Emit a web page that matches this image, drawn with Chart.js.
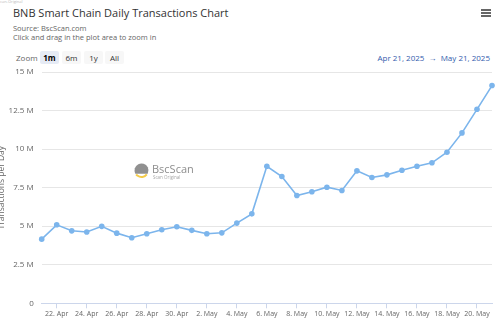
<!DOCTYPE html>
<html>
<head>
<meta charset="utf-8">
<script src="https://cdn.jsdelivr.net/npm/chart.js@4"></script>
<style>
  body { margin: 0; width: 500px; height: 325px; overflow: hidden; background: #fff; font-family: "Open Sans", sans-serif; position: relative; }
  #chart { position: absolute; left: -4px; top: 0; }
  .txt { position: absolute; white-space: nowrap; }
  #ghost { left: 0; top: -1px; font-size: 4px; color: #bbb; }
  #title { left: 13px; top: 5px; font-size: 11px; color: #333; }
  #source { left: 13px; top: 23px; font-size: 7.5px; color: #666; }
  #hint { left: 13px; top: 32px; font-size: 7.5px; color: #666; }
  #zoomLbl { left: 16px; top: 52px; font-size: 8px; color: #666; }
  .btn { position: absolute; top: 51px; height: 13px; width: 19px; font-size: 8px; line-height: 13px; text-align: center; color: #333; background: #f7f7f7; border-radius: 2px; }
  .btn.on { background: #e6ebf5; font-weight: bold; color: #000; }
  #range { right: 10px; top: 52px; font-size: 8px; color: #335cad; }
  #menu { position: absolute; left: 481px; top: 9px; width: 10px; }
  #menu div { height: 1.5px; background: #666; margin-bottom: 1.7px; }
</style>
</head>
<body>
<div class="txt" id="ghost">can-Original</div>
<div class="txt" id="title">BNB Smart Chain Daily Transactions Chart</div>
<div class="txt" id="source">Source: BscScan.com</div>
<div class="txt" id="hint">Click and drag in the plot area to zoom in</div>
<div class="txt" id="zoomLbl">Zoom</div>
<div class="btn on" style="left:40px">1m</div>
<div class="btn" style="left:62px">6m</div>
<div class="btn" style="left:84px">1y</div>
<div class="btn" style="left:105px">All</div>
<div class="txt" id="range">Apr 21, 2025 &nbsp;→&nbsp; May 21, 2025</div>
<div id="menu"><div></div><div></div><div></div></div>
<canvas id="chart" width="504" height="325"></canvas>
<script>
// Daily dates, 21 Apr 2025 - 21 May 2025
const dates = [
    '21. Apr', '22. Apr', '23. Apr', '24. Apr', '25. Apr', '26. Apr', '27. Apr', '28. Apr', '29. Apr', '30. Apr',
    '1. May', '2. May', '3. May', '4. May', '5. May', '6. May', '7. May', '8. May', '9. May', '10. May',
    '11. May', '12. May', '13. May', '14. May', '15. May', '16. May', '17. May', '18. May', '19. May', '20. May',
    '21. May'
];

// Transactions per day
const transactions = [
    4160000, 5090000, 4700000, 4620000, 4990000, 4550000, 4250000, 4510000, 4770000, 4960000,
    4730000, 4510000, 4570000, 5200000, 5800000, 8890000, 8220000, 6990000, 7230000, 7530000,
    7320000, 8590000, 8160000, 8330000, 8630000, 8890000, 9110000, 9800000, 11050000, 12580000,
    14120000
];

const yTicks = [0, 2500000, 5000000, 7500000, 10000000, 12500000, 15000000];

// Faint BscScan watermark behind the series
const watermark = {
    id: 'watermark',
    beforeDatasetsDraw(chart) {
        const ctx = chart.ctx;
        ctx.save();
        ctx.globalAlpha = 0.75;
        ctx.fillStyle = '#6b6b6b';
        ctx.beginPath();
        ctx.arc(145.5, 170.5, 7, Math.PI * 0.85, Math.PI * 2.15);
        ctx.closePath();
        ctx.fill();
        ctx.strokeStyle = '#f0b90b';
        ctx.lineWidth = 2;
        ctx.beginPath();
        ctx.arc(145.5, 170.5, 6.5, Math.PI * 0.2, Math.PI * 0.8);
        ctx.stroke();
        ctx.fillStyle = '#666';
        ctx.font = '11px "Open Sans"';
        ctx.textBaseline = 'alphabetic';
        ctx.fillText('BscScan', 156, 172.5);
        ctx.font = '4.5px "Open Sans"';
        ctx.fillStyle = '#888';
        ctx.fillText('Scan Original', 157, 178.5);
        ctx.restore();
    }
};

new Chart(document.getElementById('chart'), {
    type: 'line',
    data: {
        labels: dates,
        datasets: [{
            label: 'Transactions per Day',
            data: transactions,
            borderColor: '#7cb5ec',
            backgroundColor: '#7cb5ec',
            borderWidth: 1.6,
            pointRadius: 2.8,
            pointBorderWidth: 0,
            tension: 0
        }]
    },
    options: {
        responsive: false,
        animation: false,
        layout: { padding: { left: 0, right: 8, top: 72, bottom: 0 } },
        plugins: {
            legend: { display: false },
            tooltip: { enabled: false }
        },
        scales: {
            x: {
                offset: false,
                grid: { display: true, drawOnChartArea: false, drawTicks: true, tickLength: 5, color: '#ccd6eb' },
                border: { display: true, color: '#ccd6eb' },
                ticks: {
                    autoSkip: false,
                    maxRotation: 0,
                    padding: 1,
                    color: '#666',
                    font: { family: 'Open Sans', size: 7 },
                    callback: function (value, index) {
                        return index % 2 === 1 ? this.getLabelForValue(value) : null;
                    }
                },
                afterFit: (scale) => { scale.height = 21.7; }
            },
            y: {
                min: 0,
                max: 15000000,
                afterBuildTicks: (scale) => { scale.ticks = yTicks.map(v => ({ value: v })); },
                grid: { color: '#e6e6e6', drawTicks: false },
                border: { display: false },
                title: {
                    display: true,
                    text: 'Transactions per Day',
                    color: '#666',
                    font: { family: 'Open Sans', size: 8.5 },
                    padding: { top: 0, bottom: 0 }
                },
                ticks: {
                    padding: 8,
                    color: '#666',
                    font: { family: 'Open Sans', size: 8 },
                    callback: (v) => v === 0 ? '0' : (v / 1000000) + ' M'
                },
                afterFit: (scale) => { scale.width = 45.7; }
            }
        }
    },
    plugins: [watermark]
});
</script>
</body>
</html>
